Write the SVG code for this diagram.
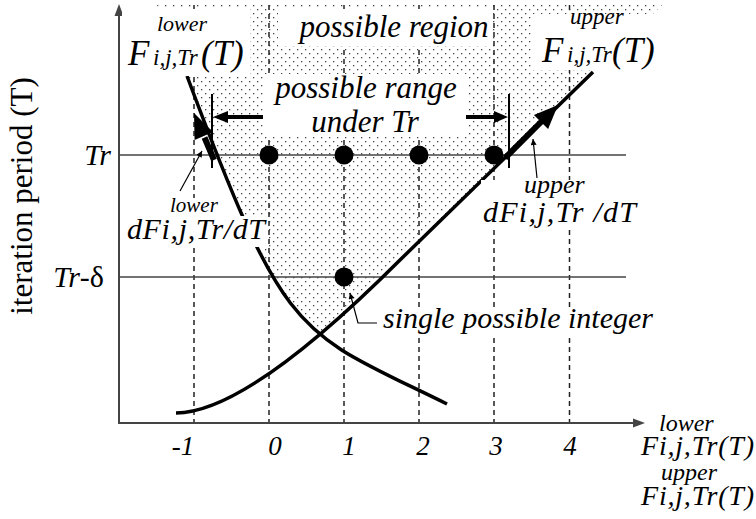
<svg xmlns="http://www.w3.org/2000/svg" width="756" height="519" viewBox="0 0 756 519">
<style>
.it{font-family:"Liberation Serif","Times New Roman",serif;font-style:italic;fill:#000}
.rm{font-family:"Liberation Serif","Times New Roman",serif;fill:#000}
.axis{stroke:#444;stroke-width:2;fill:none}
.grid{stroke:#444;stroke-width:1.5;fill:none}
.dash{stroke:#222;stroke-width:1.5;stroke-dasharray:5 4;fill:none}
.curve{stroke:#000;stroke-width:3.5;fill:none}
.box{fill:#fff}
.thin{stroke:#000;stroke-width:1.2;fill:none}
.bar{stroke:#000;stroke-width:2;fill:none}
.thick{stroke:#000;stroke-width:6;fill:none}
.harr{stroke:#000;stroke-width:4;fill:none}
</style>
<defs>
<pattern id="dots" width="8" height="8" patternUnits="userSpaceOnUse"><rect x="1" y="1" width="1.3" height="1.3" fill="#444"/><rect x="5" y="5" width="1.3" height="1.3" fill="#444"/></pattern>
<clipPath id="cA"><path d="M154,0 L157,5 L187,76 C287,344 297,330 447,404 L760,404 L760,0 Z"/></clipPath>
<clipPath id="cB"><path d="M0,0 L0,413 L176,413 Q247,413 400,260 L662,5 L662,0 Z"/></clipPath>
<marker id="ah" viewBox="0 0 10 10" refX="10" refY="5" markerWidth="8" markerHeight="6" markerUnits="userSpaceOnUse" orient="auto"><path d="M0,0 L10,5 L0,10 Z" fill="#000"/></marker>
</defs>

<g id="shading" clip-path="url(#cA)"><rect x="100" y="3" width="600" height="420" fill="url(#dots)" clip-path="url(#cB)"/></g>

<g id="gridlines">
<line class="dash" x1="194" y1="5" x2="194" y2="423"/>
<line class="dash" x1="269" y1="5" x2="269" y2="423"/>
<line class="dash" x1="344" y1="5" x2="344" y2="423"/>
<line class="dash" x1="419" y1="5" x2="419" y2="423"/>
<line class="dash" x1="494" y1="5" x2="494" y2="423"/>
<line class="dash" x1="569.5" y1="5" x2="569.5" y2="423"/>
<line class="grid" x1="119" y1="155" x2="626" y2="155"/>
<line class="grid" x1="119" y1="277" x2="626" y2="277"/>
</g>

<g id="axes">
<line class="axis" x1="119" y1="14" x2="119" y2="423"/>
<line class="axis" x1="118" y1="423" x2="635" y2="423"/>
<polygon points="119,4 114.5,16 123.5,16" fill="#444"/>
<polygon points="645,423 633,418.5 633,427.5" fill="#444"/>
</g>

<g id="curves">
<path id="lower-curve" class="curve" d="M187,76 C287,344 297,330 447,404"/>
<path id="upper-curve" class="curve" d="M176,413 Q247,413 400,260 L593,72"/>
</g>

<g id="label-boxes">
<rect class="box" x="122" y="9" width="128" height="67"/>
<rect class="box" x="278" y="9" width="214" height="37"/>
<rect class="box" x="263" y="74" width="204" height="63"/>
<rect class="box" x="533" y="14" width="137" height="56"/>
<rect class="box" x="168" y="198" width="52" height="18"/>
<rect class="box" x="125" y="216" width="143" height="31"/>
<rect class="box" x="481" y="180" width="158" height="50"/>
<rect class="box" x="380" y="307" width="286" height="29"/>
</g>

<g id="connectors">
<line class="thick" x1="214" y1="160" x2="204.5" y2="137.5"/>
<polygon points="194,113 213,132.1 194.6,139.9" fill="#000"/>
<line class="thick" x1="505" y1="158" x2="543" y2="120"/>
<polygon points="558,105 548.1,129.1 533.9,114.9" fill="#000"/>
<line class="harr" x1="263" y1="117" x2="226" y2="117"/>
<polygon points="213,117 228,111 228,123" fill="#000"/>
<line class="harr" x1="466" y1="117" x2="496" y2="117"/>
<polygon points="508,117 494,111 494,123" fill="#000"/>
<line class="bar" x1="212" y1="94" x2="212" y2="168"/>
<line class="bar" x1="509" y1="94" x2="509" y2="168"/>
<line class="thin" x1="180" y1="191" x2="202" y2="151" marker-end="url(#ah)"/>
<line class="thin" x1="537" y1="178" x2="533" y2="139" marker-end="url(#ah)"/>
<polyline class="thin" points="377,323 358,323 350,293" marker-end="url(#ah)"/>
</g>

<g id="points" fill="#000">
<circle cx="269" cy="155" r="9.5"/>
<circle cx="344" cy="155" r="9.5"/>
<circle cx="419" cy="155" r="9.5"/>
<circle cx="494" cy="155" r="9.5"/>
<circle cx="344" cy="277" r="9.5"/>
</g>

<g id="label-lower-F">
<text class="it" x="157" y="31" font-size="22">lower</text>
<text class="it" x="128" y="65" font-size="35">F</text>
<text class="it" x="153" y="65" font-size="23">i,j,Tr</text>
<text class="it" x="201" y="65" font-size="35">(T)</text>
</g>
<g id="label-upper-F">
<text class="it" x="570" y="24" font-size="23">upper</text>
<text class="it" x="542" y="62" font-size="35">F</text>
<text class="it" x="567" y="62" font-size="23">i,j,Tr</text>
<text class="it" x="612" y="62" font-size="35">(T)</text>
</g>
<g id="label-region">
<text class="it" x="394" y="37" font-size="31" text-anchor="middle">possible region</text>
</g>
<g id="label-range">
<text class="it" x="366" y="98" font-size="31" text-anchor="middle">possible range</text>
<text class="it" x="365" y="132" font-size="31" text-anchor="middle">under Tr</text>
</g>
<g id="label-lower-dF">
<text class="it" x="170" y="212" font-size="21">lower</text>
<text class="it" x="127" y="239" font-size="30" textLength="138" lengthAdjust="spacing">dFi,j,Tr/dT</text>
</g>
<g id="label-upper-dF">
<text class="it" x="524" y="193" font-size="26">upper</text>
<text class="it" x="483" y="222" font-size="30" textLength="153" lengthAdjust="spacing">dFi,j,Tr /dT</text>
</g>
<g id="label-single">
<text class="it" x="383" y="328" font-size="30">single possible integer</text>
</g>
<g id="y-labels">
<text class="it" x="111" y="165" font-size="30" text-anchor="end">Tr</text>
<text class="it" x="104" y="287" font-size="30" text-anchor="end">Tr<tspan font-style="normal">-δ</tspan></text>
<text class="rm" transform="translate(32,196) rotate(-90)" font-size="31" text-anchor="middle">iteration period (T)</text>
</g>
<g id="x-labels">
<text class="it" x="183" y="455" font-size="27" text-anchor="middle">-1</text>
<text class="it" x="275" y="455" font-size="27" text-anchor="middle">0</text>
<text class="it" x="349" y="455" font-size="27" text-anchor="middle">1</text>
<text class="it" x="423" y="455" font-size="27" text-anchor="middle">2</text>
<text class="it" x="496" y="455" font-size="27" text-anchor="middle">3</text>
<text class="it" x="570" y="455" font-size="27" text-anchor="middle">4</text>
<text class="it" x="659" y="431" font-size="24">lower</text>
<text class="it" x="641" y="455" font-size="28" textLength="113" lengthAdjust="spacing">Fi,j,Tr(T)</text>
<text class="it" x="661" y="480" font-size="24">upper</text>
<text class="it" x="641" y="505" font-size="28" textLength="113" lengthAdjust="spacing">Fi,j,Tr(T)</text>
</g>
</svg>
